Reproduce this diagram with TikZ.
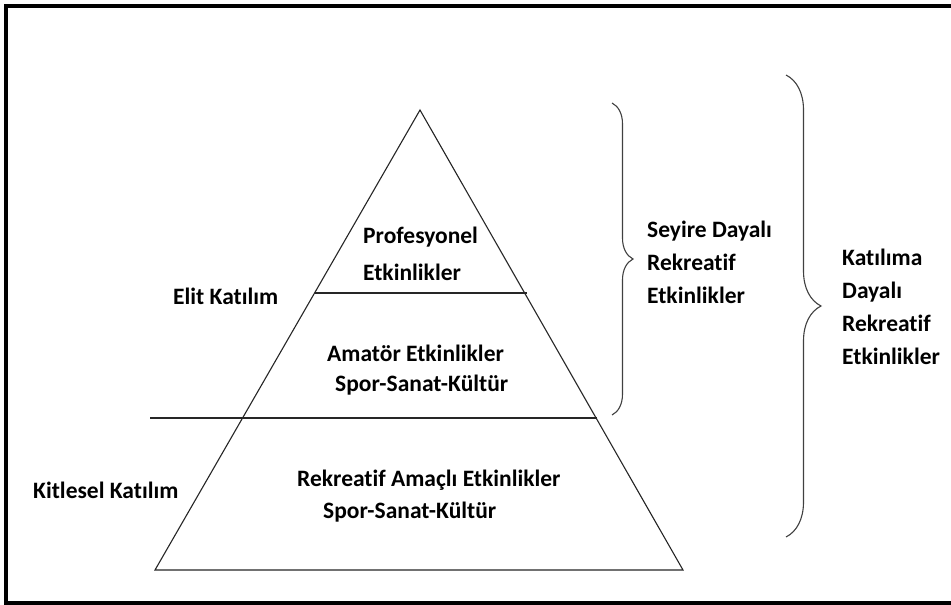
\documentclass[tikz,border=0pt]{standalone}
\usepackage{fontspec}
\setmainfont{Carlito}[Ligatures=NoCommon]
\usetikzlibrary{decorations.pathreplacing}
\tikzset{
  yazi/.style={font=\fontsize{23.5}{33}\selectfont\bfseries, inner sep=0pt, align=left, anchor=west},
  katman/.style={line width=1.1pt, draw=black!85},
  parantez/.style={decorate, decoration={brace, amplitude=#1}, line width=1.1pt, draw=black!75},
}
\begin{document}
\begin{tikzpicture}[x=1pt,y=-1pt]
	\useasboundingbox (0,0) rectangle (951,605);
	\fill[white] (0,0) rectangle (951,605);
	% cerceve (sag kenari yok)
	\draw[line width=4pt] (951,6) -- (6,6) -- (6,603) -- (951,603);
	% piramit
	\coordinate (tepe) at (420,110);
	\coordinate (solalt) at (155,570);
	\coordinate (sagalt) at (683,570);
	\draw[katman] (tepe) -- (solalt) -- (sagalt) -- cycle;
	\draw[katman] (315,293) -- (527,293);
	\draw[katman] (150,418) -- (597,418);
	% katman yazilari
	\node[yazi] (prof) at (363,237) {Profesyonel};
	\node[yazi] (profe) at (363,272) {Etkinlikler};
	\node[yazi] (amator) at (327,353) {Amatör Etkinlikler};
	\node[yazi] (amators) at (335,385) {Spor-Sanat-Kültür};
	\node[yazi] (rekr) at (297,480) {Rekreatif Amaçlı Etkinlikler};
	\node[yazi] (rekrs) at (323,512) {Spor-Sanat-Kültür};
	\node[yazi] (elit) at (173,296) {Elit Katılım};
	\node[yazi] (kitle) at (33,490) {Kitlesel Katılım};
	% parantezler
	\draw[parantez=21pt] (612,103) -- (612,415);
	\node[yazi] (seyir) at (647,262) {Seyire Dayalı\\Rekreatif\\Etkinlikler};
	\draw[parantez=35pt] (786,75) -- (786,537);
	\node[yazi] (katilim) at (842,307) {Katılıma\\Dayalı\\Rekreatif\\Etkinlikler};
\end{tikzpicture}
\end{document}
